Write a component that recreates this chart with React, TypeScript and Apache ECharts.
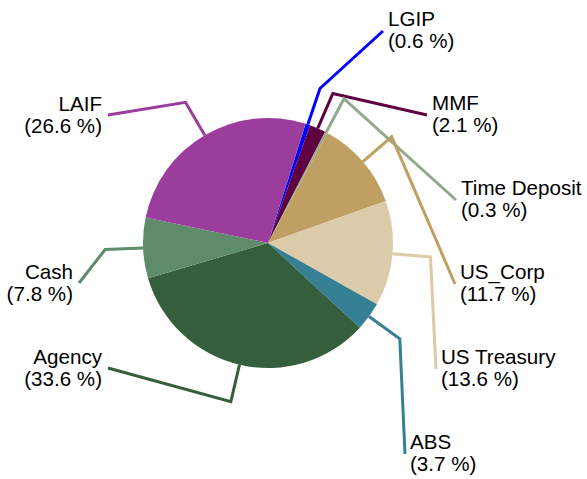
import React, { useEffect, useRef } from "react";
import * as echarts from "echarts";

// ---- data ----
const categories = [
  "LGIP",
  "MMF",
  "Time Deposit",
  "US_Corp",
  "US Treasury",
  "ABS",
  "Agency",
  "Cash",
  "LAIF",
];
const percents = [0.6, 2.1, 0.3, 11.7, 13.6, 3.7, 33.6, 7.8, 26.6];

// ---- styles / layout ----
const sliceColors = [
  "#0000FF",
  "#5E0042",
  "#93A88E",
  "#C0A062",
  "#DCCBA8",
  "#368096",
  "#345E3C",
  "#5E8C6A",
  "#9A3D9D",
];
const CENTER: [number, number] = [268, 243];
const RADIUS = 125;
const BEND = 38;
// label anchor (edge x, vertical middle y, alignment)
const labelX = [388, 432, 461, 460, 441, 410, 102, 73, 102];
const labelY = [29, 113, 198, 282, 367, 452, 367, 282, 114];
const labelAlign = ["left", "left", "left", "left", "left", "left", "right", "right", "right"];

export default function App() {
  const ref = useRef<HTMLDivElement>(null);

  useEffect(() => {
    if (!ref.current) return;
    const chart = echarts.init(ref.current, null, { renderer: "svg" });
    const data = categories.map((name, i) => ({
      name,
      value: percents[i],
      itemStyle: { color: sliceColors[i] },
      labelLine: { lineStyle: { color: sliceColors[i], width: 3 } },
    }));
    chart.setOption({
      animation: false,
      backgroundColor: "#ffffff",
      series: [
        {
          type: "pie",
          center: CENTER,
          radius: RADIUS,
          startAngle: 72.5,
          clockwise: true,
          avoidLabelOverlap: false,
          data,
          itemStyle: { borderWidth: 0 },
          label: {
            show: true,
            position: "outside",
            formatter: (p: any) => `${p.name}\n(${Number(p.value).toFixed(1)} %)`,
            fontFamily: "'Liberation Sans', Arial, sans-serif",
            fontSize: 20.6,
            lineHeight: 22,
            color: "#000000",
          },
          labelLine: {
            show: true,
            length: BEND,
            length2: 20,
            smooth: false,
            lineStyle: { width: 3 },
          },
          labelLayout: (params: any) => {
            const i = params.dataIndex;
            const x = labelX[i];
            const y = labelY[i];
            const align = labelAlign[i];
            const pts = params.labelLinePoints;
            const res: any = { x, y, align, verticalAlign: "middle" };
            if (pts && pts[0]) {
              const p0 = pts[0];
              const dx = p0[0] - CENTER[0];
              const dy = p0[1] - CENTER[1];
              const len = Math.sqrt(dx * dx + dy * dy) || 1;
              const p1 = [p0[0] + (dx / len) * BEND, p0[1] + (dy / len) * BEND];
              const end =
                align === "left" ? [x - 5, y + 2] : [x + 6, y + 1];
              res.labelLinePoints = [p0, p1, end];
            }
            return res;
          },
          emphasis: { disabled: true },
        },
      ],
    });
    return () => chart.dispose();
  }, []);

  return (
    <div
      ref={ref}
      style={{ position: "fixed", left: 0, top: 0, width: 587, height: 479 }}
    />
  );
}
